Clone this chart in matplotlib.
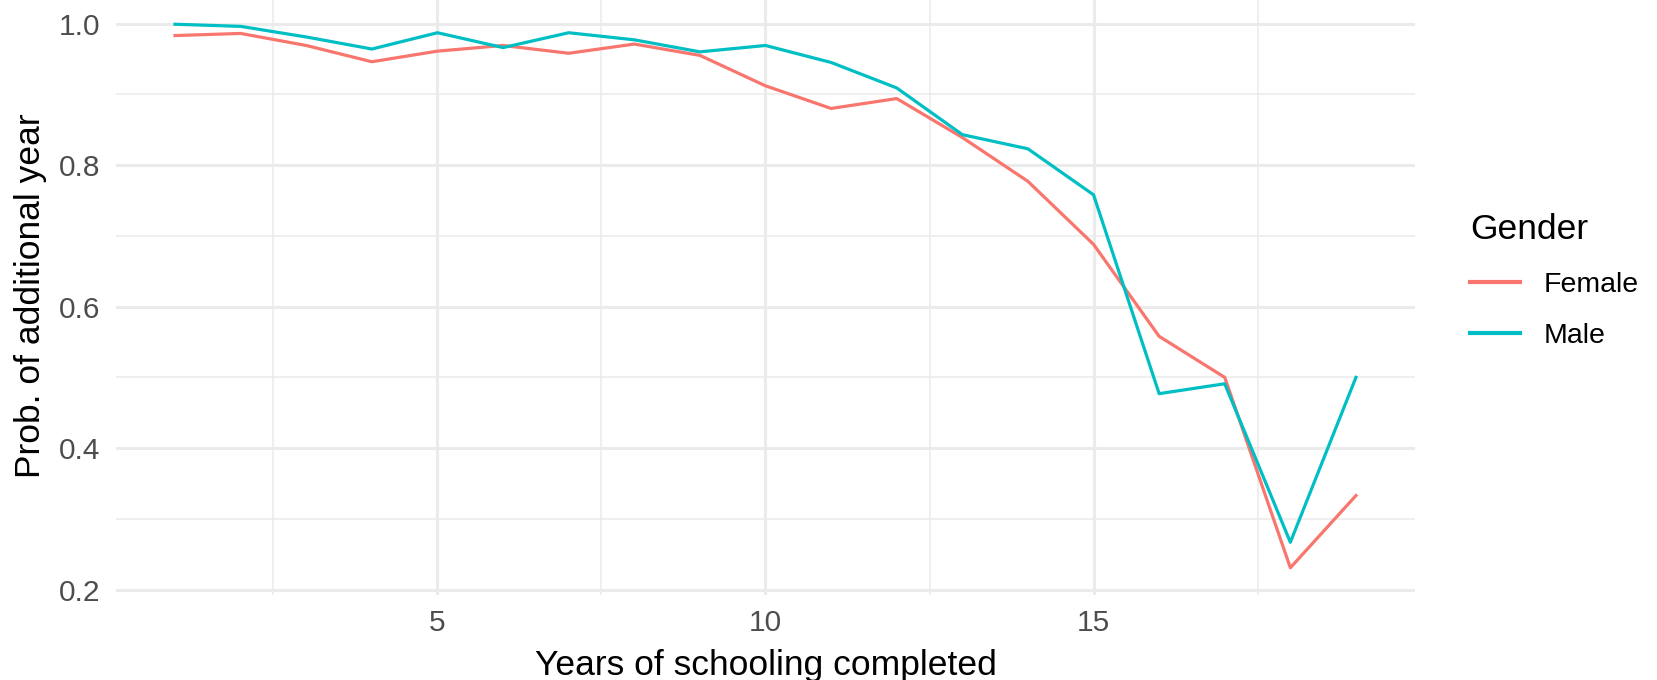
import matplotlib
matplotlib.use("Agg")
import matplotlib.pyplot as plt
from matplotlib.ticker import MultipleLocator

# years of schooling completed
years = list(range(1, 20))

# probability of an additional year
female = [0.983, 0.986, 0.969, 0.946, 0.961, 0.969, 0.958, 0.971, 0.955, 0.912,
          0.880, 0.894, 0.839, 0.777, 0.688, 0.558, 0.500, 0.231, 0.333]
male = [0.999, 0.996, 0.981, 0.964, 0.987, 0.966, 0.987, 0.977, 0.960, 0.969,
        0.945, 0.909, 0.843, 0.823, 0.758, 0.477, 0.491, 0.267, 0.500]

plt.rcParams["font.family"] = ["Liberation Sans", "DejaVu Sans"]

fig = plt.figure(figsize=(16.58, 6.8), dpi=100)
ax = fig.add_axes([116 / 1658, 1 - 595 / 680, (1415 - 116) / 1658, (595 + 3) / 680])

ax.plot(years, female, color="#F8766D", linewidth=2.3, label="Female")
ax.plot(years, male, color="#00BFC4", linewidth=2.3, label="Male")

# ggplot style expanded limits
ax.set_xlim(0.1, 19.9)
ax.set_ylim(0.1925, 1.0375)

ax.xaxis.set_major_locator(MultipleLocator(5))
ax.xaxis.set_minor_locator(MultipleLocator(2.5))
ax.yaxis.set_major_locator(MultipleLocator(0.2))
ax.yaxis.set_minor_locator(MultipleLocator(0.1))
ax.yaxis.set_major_formatter(lambda v, pos: f"{v:.1f}")

ax.grid(which="major", color="#EBEBEB", linewidth=2.2)
ax.grid(which="minor", color="#EBEBEB", linewidth=1.1)
ax.set_axisbelow(True)

for side in ax.spines.values():
    side.set_visible(False)

ax.tick_params(which="both", length=0, labelsize=21.5, labelcolor="#4D4D4D")
ax.tick_params(axis="x", pad=10)
ax.tick_params(axis="y", pad=11.5)

ax.set_xlabel("Years of schooling completed", fontsize=25.5, labelpad=9)
ax.set_ylabel("Prob. of additional year", fontsize=25.5, labelpad=8)

leg = fig.legend(title="Gender", loc="upper left",
                 bbox_to_anchor=(1470 / 1658, 1 - 213 / 680),
                 frameon=False, fontsize=20.5, title_fontsize=25.5,
                 handlelength=1.75, handletextpad=0.85, labelspacing=0.9,
                 borderpad=0, borderaxespad=0, alignment="left")
for line in leg.get_lines():
    line.set_linewidth(3)

fig.savefig("out.png", dpi=100)
